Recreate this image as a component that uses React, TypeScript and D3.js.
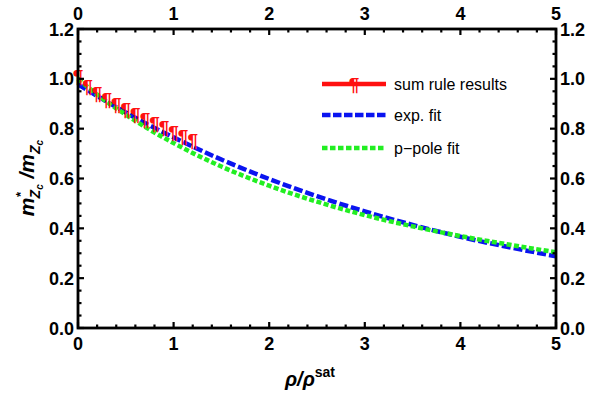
import React from "react";
import * as d3 from "d3";

const xTicks = [0, 1, 2, 3, 4, 5];
const yTicks = [0.0, 0.2, 0.4, 0.6, 0.8, 1.0, 1.2];

const fitX = [0, 0.25, 0.5, 0.75, 1, 1.5, 2, 2.5, 3, 3.5, 4, 4.5, 5];
const expFit = [0.978, 0.92, 0.865, 0.813, 0.765, 0.676, 0.598, 0.529, 0.468, 0.414, 0.366, 0.325, 0.288];
const ppoleFit = [1.0, 0.922, 0.856, 0.796, 0.742, 0.648, 0.571, 0.507, 0.453, 0.408, 0.369, 0.335, 0.304];

const sumX = [0, 0.1, 0.2, 0.3, 0.4, 0.5, 0.6, 0.7, 0.8, 0.9, 1.0, 1.1, 1.2];
const sumY = [1.01, 0.97, 0.945, 0.92, 0.898, 0.877, 0.858, 0.84, 0.822, 0.805, 0.787, 0.77, 0.753];

const legendLabels = ["sum rule results", "exp. fit", "p\u2212pole fit"];

const W = 592, H = 396;
const M = { left: 78, right: 556, top: 29, bottom: 328 };
const FONT = "'Liberation Sans', Arial, Helvetica, sans-serif";

export default function App() {
  const x = d3.scaleLinear().domain([0, 5]).range([M.left, M.right]);
  const y = d3.scaleLinear().domain([0, 1.2]).range([M.bottom, M.top]);

  const line = d3.line<[number, number]>().x(d => x(d[0])).y(d => y(d[1])).curve(d3.curveMonotoneX);
  const expPath = line(fitX.map((v, i) => [v, expFit[i]]))!;
  const ppPath = line(fitX.map((v, i) => [v, ppoleFit[i]]))!;

  const xMinor = d3.range(0, 5.0001, 0.2).filter(v => Math.abs(v - Math.round(v)) > 1e-6);
  const yMinor = d3.range(0, 1.2001, 0.05).filter(v => Math.abs(v * 5 - Math.round(v * 5)) > 1e-6);

  const tickFont = { fontFamily: FONT, fontWeight: 700, fontSize: 18 } as const;
  const lgX0 = 322, lgX1 = 386;
  const lgY = [84, 115, 148];

  return (
    <svg width={W} height={H} style={{ position: "absolute", left: 0, top: 0, background: "#fff" }}>
      <rect width={W} height={H} fill="#fff" />
      {/* curves */}
      <path d={expPath} fill="none" stroke="#0a14f0" strokeWidth={4.5} strokeDasharray="9,3" />
      <path d={ppPath} fill="none" stroke="#22ee22" strokeWidth={4.5} strokeDasharray="5,2.5" />
      {/* sum rule markers */}
      {sumX.map((v, i) => (
        <text key={i} x={x(v)} y={y(sumY[i]) + 7} textAnchor="middle" fill="#ff1010" fontFamily={FONT} fontWeight={700} fontSize={19}>
          ¶
        </text>
      ))}
      {/* frame */}
      <rect x={M.left} y={M.top} width={M.right - M.left} height={M.bottom - M.top} fill="none" stroke="#000" strokeWidth={2.8} />
      {/* x ticks */}
      {xTicks.map(t => (
        <g key={"xt" + t}>
          <line x1={x(t)} x2={x(t)} y1={M.bottom} y2={M.bottom - 6} stroke="#000" strokeWidth={2.2} />
          <line x1={x(t)} x2={x(t)} y1={M.top} y2={M.top + 6} stroke="#000" strokeWidth={2.2} />
          <text x={x(t)} y={M.bottom + 22} textAnchor="middle" {...tickFont}>{t}</text>
          <text x={x(t)} y={M.top - 9} textAnchor="middle" {...tickFont}>{t}</text>
        </g>
      ))}
      {xMinor.map((t, i) => (
        <g key={"xm" + i}>
          <line x1={x(t)} x2={x(t)} y1={M.bottom} y2={M.bottom - 3.5} stroke="#000" strokeWidth={2.2} />
          <line x1={x(t)} x2={x(t)} y1={M.top} y2={M.top + 3.5} stroke="#000" strokeWidth={2.2} />
        </g>
      ))}
      {/* y ticks */}
      {yTicks.map(t => (
        <g key={"yt" + t}>
          <line x1={M.left} x2={M.left + 6} y1={y(t)} y2={y(t)} stroke="#000" strokeWidth={2.2} />
          <line x1={M.right} x2={M.right - 6} y1={y(t)} y2={y(t)} stroke="#000" strokeWidth={2.2} />
          <text x={M.left - 4} y={y(t) + 6.5} textAnchor="end" {...tickFont}>{t.toFixed(1)}</text>
          <text x={M.right + 4} y={y(t) + 6.5} textAnchor="start" {...tickFont}>{t.toFixed(1)}</text>
        </g>
      ))}
      {yMinor.map((t, i) => (
        <g key={"ym" + i}>
          <line x1={M.left} x2={M.left + 3.5} y1={y(t)} y2={y(t)} stroke="#000" strokeWidth={2.2} />
          <line x1={M.right} x2={M.right - 3.5} y1={y(t)} y2={y(t)} stroke="#000" strokeWidth={2.2} />
        </g>
      ))}
      {/* axis titles */}
      <text x={310} y={386} textAnchor="middle" fontFamily={FONT} fontWeight={700} fontSize={20}>
        <tspan fontStyle="italic">ρ/ρ</tspan><tspan dy={-9} fontSize={14}>sat</tspan>
      </text>
      <g transform="translate(34,178) rotate(-90)">
        <text x={0} y={0} textAnchor="middle" fontFamily={FONT} fontWeight={700} fontStyle="italic" fontSize={21}>
          m<tspan dy={-9} fontSize={13}>*</tspan>
          <tspan dx={-6} dy={15} fontSize={14}>Z</tspan>
          <tspan dy={3} fontSize={10}>c</tspan>
          <tspan dy={-9} fontSize={21}> /m</tspan>
          <tspan dy={6} fontSize={14}>Z</tspan>
          <tspan dy={3} fontSize={10}>c</tspan>
        </text>
      </g>
      {/* legend */}
      <line x1={lgX0} x2={lgX1} y1={lgY[0]} y2={lgY[0]} stroke="#ff1010" strokeWidth={4.5} />
      <text x={(lgX0 + lgX1) / 2} y={lgY[0] + 7} textAnchor="middle" fill="#ff1010" fontFamily={FONT} fontWeight={700} fontSize={19}>¶</text>
      <line x1={lgX0} x2={lgX1} y1={lgY[1]} y2={lgY[1]} stroke="#0a14f0" strokeWidth={4.5} strokeDasharray="8.5,2.5" />
      <line x1={lgX0} x2={lgX1} y1={lgY[2]} y2={lgY[2]} stroke="#22ee22" strokeWidth={4.5} strokeDasharray="5.5,2.5" />
      {legendLabels.map((l, i) => (
        <text key={l} x={394} y={lgY[i] + 6} fontFamily={FONT} fontSize={16} fill="#000">{l}</text>
      ))}
    </svg>
  );
}
